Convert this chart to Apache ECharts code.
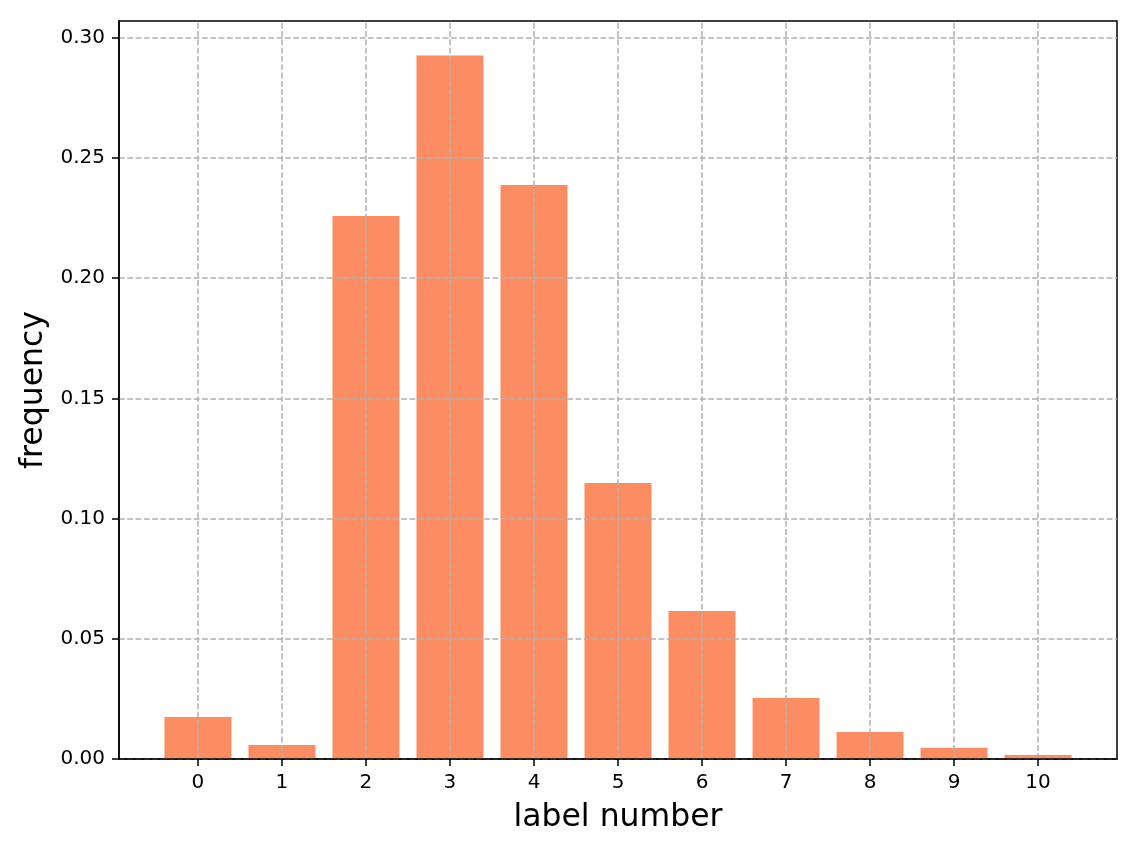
<!DOCTYPE html>
<html>
<head>
<meta charset="utf-8">
<script src="https://cdn.jsdelivr.net/npm/echarts@6/dist/echarts.min.js"></script>
<style>html,body{margin:0;padding:0;background:#fff;}#chart{width:1139px;height:854px;}</style>
</head>
<body>
<div id="chart"></div>
<script>
const categories = [0, 1, 2, 3, 4, 5, 6, 7, 8, 9, 10];
const frequency = [0.0175, 0.0058, 0.2259, 0.2926, 0.2388, 0.1148, 0.0616, 0.0254, 0.0112, 0.0047, 0.0017];
const yTicks = [0, 0.05, 0.10, 0.15, 0.20, 0.25, 0.30];

const FONT = 'DejaVu Sans';
const chart = echarts.init(document.getElementById('chart'), null, {renderer: 'canvas'});

const gridLines = categories.map(v => ({xAxis: v})).concat(yTicks.map(v => ({yAxis: v})));

chart.setOption({
  animation: false,
  backgroundColor: '#ffffff',
  grid: {left: 119, right: 22, top: 21, bottom: 95, show: true, borderColor: '#000', borderWidth: 1.5, backgroundColor: 'transparent'},
  xAxis: {
    type: 'value', min: -0.94, max: 10.94,
    name: 'label number', nameLocation: 'middle', nameGap: 43,
    nameTextStyle: {fontSize: 31.5, color: '#000', fontFamily: FONT},
    axisLine: {show: true, onZero: false, lineStyle: {color: '#000', width: 1.5}},
    axisTick: {show: true, customValues: categories, length: 7, lineStyle: {color: '#000', width: 1.5}},
    axisLabel: {customValues: categories, margin: 14, fontSize: 20, color: '#000', fontFamily: FONT},
    splitLine: {show: false},
    z: 10
  },
  yAxis: {
    type: 'value', min: 0, max: 0.307,
    name: 'frequency', nameLocation: 'middle', nameGap: 59,
    nameTextStyle: {fontSize: 31.5, color: '#000', fontFamily: FONT},
    axisLine: {show: true, onZero: false, lineStyle: {color: '#000', width: 1.5}},
    axisTick: {show: true, customValues: yTicks, length: 7, lineStyle: {color: '#000', width: 1.5}},
    axisLabel: {customValues: yTicks, margin: 14, fontSize: 20, color: '#000', fontFamily: FONT,
      padding: [3, 0, 0, 0],
      formatter: v => v.toFixed(2)},
    splitLine: {show: false},
    z: 10
  },
  series: [{
    type: 'bar',
    data: categories.map((c, i) => [c, frequency[i]]),
    barWidth: 67,
    itemStyle: {color: '#fc8d62'},
    markLine: {
      silent: true,
      symbol: ['none', 'none'],
      label: {show: false},
      lineStyle: {type: [5.8, 2.5], color: '#b0b0b0', width: 1.5, opacity: 1},
      data: gridLines,
      z: 5
    }
  }]
});
</script>
</body>
</html>
